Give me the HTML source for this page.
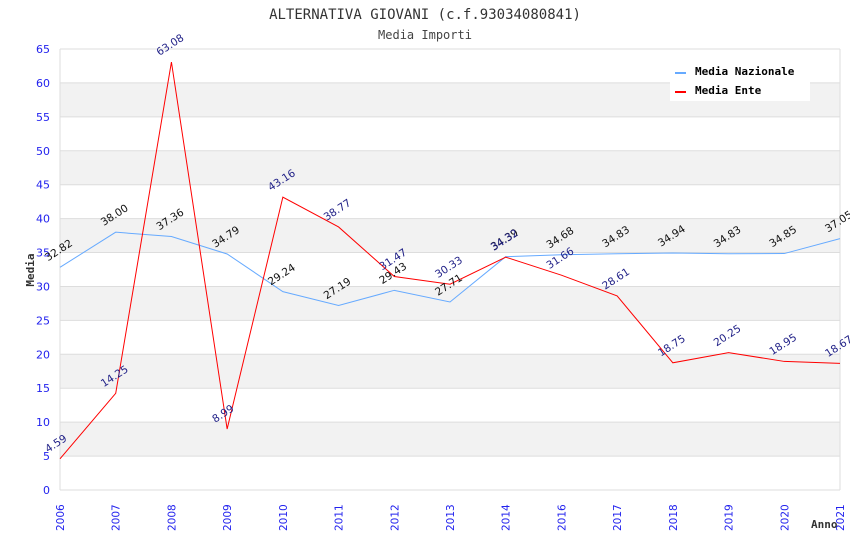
<!DOCTYPE html>
<html><head><meta charset="utf-8"><style>
body{margin:0;background:#fff}
svg{display:block}
text{font-family:"DejaVu Sans","Liberation Sans",sans-serif}
.mono{font-family:"DejaVu Sans Mono","Liberation Mono",monospace}
</style></head><body>
<svg id="c" width="850" height="550">
<text class="mono" x="425" y="19" text-anchor="middle" font-size="14" fill="#333">ALTERNATIVA GIOVANI (c.f.93034080841)</text>
<text class="mono" x="425" y="39" text-anchor="middle" font-size="12" fill="#444">Media Importi</text>
<g id="grid"></g><g id="series"></g><g id="labels"></g>
<text class="mono" x="0" y="0" transform="translate(34,270) rotate(-90)" text-anchor="middle" font-size="11" font-weight="bold" fill="#333">Media</text>
<text class="mono" x="811" y="528" font-size="11" font-weight="bold" fill="#333">Anno</text>
<g>
<rect x="670" y="57" width="140" height="44" fill="#fff"/>
<line x1="675" y1="73" x2="686" y2="73" stroke="#6af" stroke-width="2"/>
<text class="mono" x="695" y="75" font-size="11" font-weight="bold">Media Nazionale</text>
<line x1="675" y1="92" x2="686" y2="92" stroke="red" stroke-width="2"/>
<text class="mono" x="695" y="94" font-size="11" font-weight="bold">Media Ente</text>
</g>
</svg>
<script>
const categories=["2006","2007","2008","2009","2010","2011","2012","2013","2014","2016","2017","2018","2019","2020","2021"];
const nazionale=[32.82,38.00,37.36,34.79,29.24,27.19,29.43,27.71,34.39,34.68,34.83,34.94,34.83,34.85,37.05];
const ente=[4.59,14.25,63.08,8.99,43.16,38.77,31.47,30.33,34.32,31.66,28.61,18.75,20.25,18.95,18.67];
const yTicks=[0,5,10,15,20,25,30,35,40,45,50,55,60,65];
const L=60,R=840,T=49,B=490,YMAX=65;
const xS=i=>L+i*(R-L)/(categories.length-1);
const yS=v=>B-v*(B-T)/YMAX;
const NS="http://www.w3.org/2000/svg";
function mk(p,t,a){const e=document.createElementNS(NS,t);for(const k in a)e.setAttribute(k,a[k]);p.appendChild(e);return e;}
const g=document.getElementById('grid'),s=document.getElementById('series'),lb=document.getElementById('labels');
for(let i=0;i<yTicks.length-1;i++){
 if(i%2===1){const r=mk(g,'rect',{x:L,y:yS(yTicks[i+1]),width:R-L,height:yS(yTicks[i])-yS(yTicks[i+1]),fill:'#f2f2f2'});
 
 }
}
yTicks.forEach(v=>{
 const l=mk(g,'line',{x1:L,x2:R,y1:yS(v),y2:yS(v),stroke:'#ddd'});
 
 
 const t=mk(g,'text',{x:L-10,y:yS(v)+4,'text-anchor':'end','font-size':11,fill:'#22e'});t.textContent=v;
 
 
});
mk(g,'line',{x1:L,x2:L,y1:T,y2:B,stroke:'#ddd'});
mk(g,'line',{x1:R,x2:R,y1:T,y2:B,stroke:'#ddd'});
categories.forEach((c,i)=>{
 const t=mk(g,'text',{transform:`translate(${xS(i)+4},${B+41}) rotate(-90)`,'font-size':10.5,fill:'#22e'});t.textContent=c;
 
 
});
function series(data,color,lc,name){
 const p=mk(s,'polyline',{points:data.map((v,i)=>xS(i)+','+yS(v)).join(' '),fill:'none',stroke:color,'stroke-width':1});
 
 
 data.forEach((v,i)=>{
  const t=mk(lb,'text',{transform:`translate(${xS(i)-12},${yS(v)-6}) rotate(-33)`,'font-size':10.5,fill:lc});t.textContent=v.toFixed(2);
  
  
 });
}
series(nazionale,'#6af','#111','line-nazionale');
series(ente,'red','#228','line-ente');
</script>
</body></html>
